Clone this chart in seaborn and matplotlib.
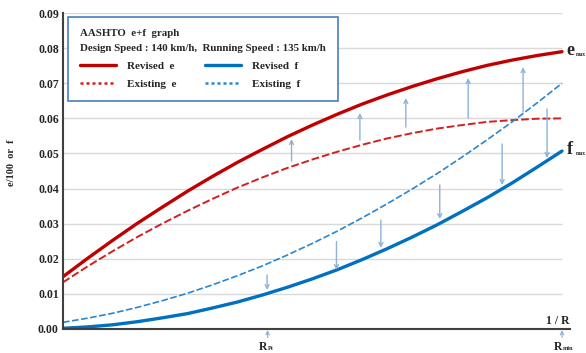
import numpy as np
import pandas as pd
import seaborn as sns
import matplotlib.pyplot as plt
from matplotlib.lines import Line2D

# 1/R position scaled 0..1 (R_min at 1)
x_vals = [0.00, 0.05, 0.10, 0.15, 0.20, 0.25, 0.30, 0.35, 0.40, 0.45, 0.50,
          0.55, 0.60, 0.65, 0.70, 0.75, 0.80, 0.85, 0.90, 0.95, 1.00]
revised_e = [0.0149, 0.0202, 0.0253, 0.0302, 0.0348, 0.0393, 0.0435, 0.0475, 0.0512, 0.0548, 0.0581,
             0.0612, 0.0641, 0.0667, 0.0691, 0.0713, 0.0733, 0.0751, 0.0766, 0.0779, 0.0790]
existing_e = [0.0133, 0.0179, 0.0222, 0.0263, 0.0301, 0.0337, 0.0371, 0.0403, 0.0432, 0.0459, 0.0483,
              0.0505, 0.0525, 0.0543, 0.0558, 0.0571, 0.0581, 0.0590, 0.0595, 0.0599, 0.0600]
revised_f = [0.0002, 0.0006, 0.0012, 0.0021, 0.0032, 0.0044, 0.0060, 0.0077, 0.0097, 0.0119, 0.0143,
             0.0169, 0.0198, 0.0229, 0.0262, 0.0297, 0.0335, 0.0374, 0.0416, 0.0461, 0.0507]
existing_f = [0.0019, 0.0031, 0.0045, 0.0062, 0.0081, 0.0102, 0.0126, 0.0152, 0.0180, 0.0211, 0.0244,
              0.0279, 0.0317, 0.0357, 0.0399, 0.0443, 0.0490, 0.0539, 0.0590, 0.0644, 0.0700]

# shift arrows (x, from, to)
up_x = [0.458, 0.595, 0.687, 0.812, 0.922]
up_from = [0.0478, 0.0538, 0.0575, 0.0601, 0.0618]
up_to = [0.0541, 0.0615, 0.0658, 0.0715, 0.0746]
down_x = [0.409, 0.548, 0.637, 0.755, 0.880, 0.970]
down_from = [0.0154, 0.0249, 0.0310, 0.0410, 0.0527, 0.0627]
down_to = [0.0111, 0.0168, 0.0231, 0.0313, 0.0410, 0.0487]

r_pt = 0.41
r_min = 1.0

sns.set_style("white")
plt.rcParams["font.family"] = ["Liberation Serif", "DejaVu Serif"]
plt.rcParams["font.weight"] = "bold"

df = pd.DataFrame({"x": x_vals, "revised_e": revised_e, "existing_e": existing_e,
                   "revised_f": revised_f, "existing_f": existing_f})

red = "#c00000"
red2 = "#d21f1f"
blue = "#0070c0"
blue2 = "#2a86cf"
arrow_c = "#8eb1da"

fig = plt.figure(figsize=(5.86, 3.53), dpi=100)
ax = fig.add_axes([0.1075, 0.068, 0.8652, 0.895])

yticks = np.arange(0, 0.0901, 0.01)
ax.hlines(yticks[1:], 0, 1.0, color="#d9d9d9", lw=1.0, zorder=0)

sns.lineplot(data=df, x="x", y="existing_e", ax=ax, color=red2, lw=1.4, linestyle=(0, (4, 1.5)))
sns.lineplot(data=df, x="x", y="existing_f", ax=ax, color=blue2, lw=1.2, linestyle=(0, (4, 1.5)))
sns.lineplot(data=df, x="x", y="revised_e", ax=ax, color=red, lw=2.4)
sns.lineplot(data=df, x="x", y="revised_f", ax=ax, color=blue, lw=2.4)

for x, y0, y1 in zip(up_x + down_x, up_from + down_from, up_to + down_to):
    ax.annotate("", xy=(x, y1), xytext=(x, y0),
                arrowprops=dict(arrowstyle="->", color=arrow_c, lw=1.0, shrinkA=0, shrinkB=0,
                                mutation_scale=7))

ax.set_xlim(0, 1.016)
ax.set_ylim(0, 0.09)
ax.set_yticks(yticks)
ax.set_yticklabels([f"{v:.2f}" for v in yticks], fontsize=8.5, fontweight="bold")
ax.set_xticks([])
ax.tick_params(axis="y", length=0, pad=3)
ax.set_xlabel("")
ax.set_ylabel("e/100  or  f", fontsize=7.5, fontweight="bold")
ax.yaxis.set_label_coords(-0.092, 0.525)
for s in ["top", "right"]:
    ax.spines[s].set_visible(False)
ax.spines["left"].set_color("#404040")
ax.spines["left"].set_linewidth(1.5)
ax.spines["bottom"].set_color("#404040")
ax.spines["bottom"].set_linewidth(1.5)

ax.text(0.992, 0.0006, "1 / R", fontsize=8.5, fontweight="bold", ha="center", va="bottom")

# e_max / f_max end labels
for yv, main in [(revised_e[-1], "e"), (revised_f[-1], "f")]:
    ax.text(1.009, yv + 0.0003, main, fontsize=13, fontweight="bold", va="center", ha="left")
    ax.annotate("max", xy=(1.009, yv + 0.0003), xytext=(7.0, -2.5), textcoords="offset points",
                fontsize=4.0, fontweight="bold", va="center", ha="left")

for xr, sub in [(r_pt, "Pt"), (r_min, "min")]:
    ax.annotate("", xy=(xr, -0.0003), xytext=(xr, -0.0024), annotation_clip=False,
                arrowprops=dict(arrowstyle="->", color=arrow_c, lw=0.9, shrinkA=0, shrinkB=0,
                                mutation_scale=6))
    ax.text(xr, -0.0051, "R", fontsize=8.5, fontweight="bold", ha="right", va="center")
    ax.annotate(sub, xy=(xr, -0.0051), xytext=(0.3, -1.5), textcoords="offset points",
                annotation_clip=False, fontsize=4.5, fontweight="bold", ha="left", va="center")

handles = [
    Line2D([], [], color=red, lw=2.4),
    Line2D([], [], color=red2, lw=1.8, linestyle=(0, (1.2, 1.2))),
    Line2D([], [], color=blue, lw=2.4),
    Line2D([], [], color=blue2, lw=1.8, linestyle=(0, (1.2, 1.2))),
]
labels = ["Revised  e", "Existing  e", "Revised  f", "Existing  f"]
leg = ax.legend(handles, labels, ncol=2, loc="upper left",
                bbox_to_anchor=(68 / 586, 1 - 17 / 353), bbox_transform=fig.transFigure,
                title="AASHTO  e+f  graph\nDesign Speed : 140 km/h,  Running Speed : 135 km/h",
                alignment="left", fancybox=False, framealpha=1, edgecolor="#4a7ebb",
                prop={"size": 8, "weight": "bold"}, title_fontproperties={"size": 7.8, "weight": "bold"},
                handlelength=3.2, handletextpad=1.0, columnspacing=2.6, labelspacing=0.75,
                borderpad=1.1, borderaxespad=0)
leg.get_title().set_linespacing(1.8)
leg.get_frame().set_linewidth(1.2)

fig.savefig("out.png", dpi=100)
